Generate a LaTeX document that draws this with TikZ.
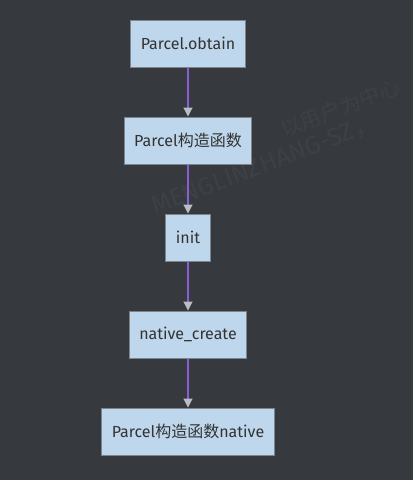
\documentclass[tikz,border=0pt]{standalone}
\usepackage{fontspec}
\setmainfont{Fira Sans}
\newfontfamily\cjk{Noto Sans CJK SC}
\usetikzlibrary{positioning, arrows.meta}
\definecolor{bgdark}{HTML}{36393E}
\definecolor{boxfill}{HTML}{BED7EC}
\definecolor{boxline}{HTML}{7E848B}
\definecolor{linkpurple}{HTML}{8A5DD2}
\definecolor{tipgray}{HTML}{B9BDC4}
\definecolor{textdark}{HTML}{333333}
\tikzset{
        callbox/.style={draw=boxline, fill=boxfill, line width=1pt, text=textdark,
                minimum height=47pt, inner xsep=10pt, font=\fontsize{16}{19}\selectfont},
        link/.style={draw=linkpurple, line width=1.2pt,
                -{Triangle[width=9pt, length=9pt, color=tipgray, fill=tipgray]}},
        wmark/.style={text=white, opacity=0.04, rotate=21, anchor=base west,
                inner sep=0pt}
}
\begin{document}
\begin{tikzpicture}[x=1pt, y=1pt, node distance=49pt]
        \fill[bgdark] (0,0) rectangle (413,-480);
        \useasboundingbox (0,0) rectangle (413,-480);

        \node[wmark, font=\fontsize{25}{28}\selectfont] (wmen) at (155,-215) {MENGLINZHANG-SZ{\cjk ，}};
        \node[wmark, font=\fontsize{21}{24}\selectfont] (wcn) at (284,-138) {\cjk 以用户为中心};

        \node[callbox] (obtain) at (188,-43.5) {Parcel.obtain};
        \node[callbox, below=of obtain] (ctor) {Parcel{\cjk 构造函数}};
        \node[callbox, below=of ctor] (init) {init};
        \node[callbox, below=of init] (create) {native\_create};
        \node[callbox, below=of create] (nctor) {Parcel{\cjk 构造函数}native};

        \draw[link] (obtain) -- (ctor);
        \draw[link] (ctor) -- (init);
        \draw[link] (init) -- (create);
        \draw[link] (create) -- (nctor);
\end{tikzpicture}
\end{document}
